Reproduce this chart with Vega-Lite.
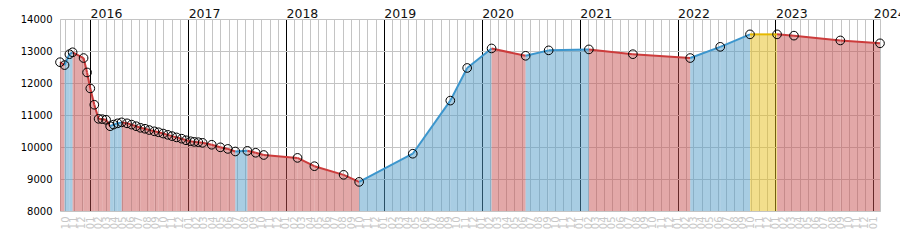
{
  "$schema": "https://vega.github.io/schema/vega-lite/v6.json",
  "width": 820,
  "height": 192,
  "autosize": "none",
  "padding": {"left": 60, "top": 19, "right": 20, "bottom": 39},
  "background": "white",
  "config": {"view": {"stroke": "#c4c4c4", "strokeWidth": 1}, "font": "DejaVu Sans"},
  "data": {
    "format": {"parse": {"d": "date"}},
    "values": [
      {"d": "2015-09-11", "v": 12650, "t": "down"},
      {"d": "2015-09-28", "v": 12560, "t": "up"},
      {"d": "2015-10-16", "v": 12900, "t": "up"},
      {"d": "2015-10-28", "v": 12960, "t": "down"},
      {"d": "2015-12-08", "v": 12780, "t": "down"},
      {"d": "2015-12-21", "v": 12330, "t": "down"},
      {"d": "2016-01-02", "v": 11830, "t": "down"},
      {"d": "2016-01-17", "v": 11320, "t": "down"},
      {"d": "2016-02-02", "v": 10880, "t": "down"},
      {"d": "2016-02-16", "v": 10870, "t": "down"},
      {"d": "2016-03-01", "v": 10850, "t": "down"},
      {"d": "2016-03-16", "v": 10650, "t": "up"},
      {"d": "2016-03-29", "v": 10700, "t": "up"},
      {"d": "2016-04-13", "v": 10740, "t": "up"},
      {"d": "2016-04-28", "v": 10770, "t": "down"},
      {"d": "2016-05-18", "v": 10740, "t": "down"},
      {"d": "2016-06-04", "v": 10700, "t": "down"},
      {"d": "2016-06-21", "v": 10650, "t": "down"},
      {"d": "2016-07-07", "v": 10600, "t": "down"},
      {"d": "2016-07-24", "v": 10570, "t": "down"},
      {"d": "2016-08-09", "v": 10530, "t": "down"},
      {"d": "2016-08-28", "v": 10490, "t": "down"},
      {"d": "2016-09-13", "v": 10460, "t": "down"},
      {"d": "2016-09-30", "v": 10420, "t": "down"},
      {"d": "2016-10-17", "v": 10380, "t": "down"},
      {"d": "2016-11-02", "v": 10340, "t": "down"},
      {"d": "2016-11-19", "v": 10300, "t": "down"},
      {"d": "2016-12-08", "v": 10260, "t": "down"},
      {"d": "2016-12-24", "v": 10210, "t": "down"},
      {"d": "2017-01-10", "v": 10180, "t": "down"},
      {"d": "2017-01-24", "v": 10160, "t": "down"},
      {"d": "2017-02-08", "v": 10150, "t": "down"},
      {"d": "2017-02-24", "v": 10130, "t": "down"},
      {"d": "2017-03-30", "v": 10070, "t": "down"},
      {"d": "2017-05-01", "v": 9990, "t": "down"},
      {"d": "2017-05-29", "v": 9940, "t": "down"},
      {"d": "2017-06-26", "v": 9860, "t": "up"},
      {"d": "2017-08-10", "v": 9880, "t": "down"},
      {"d": "2017-09-10", "v": 9820, "t": "down"},
      {"d": "2017-10-10", "v": 9750, "t": "down"},
      {"d": "2018-02-13", "v": 9660, "t": "down"},
      {"d": "2018-04-17", "v": 9400, "t": "down"},
      {"d": "2018-08-04", "v": 9130, "t": "down"},
      {"d": "2018-10-01", "v": 8910, "t": "up"},
      {"d": "2019-04-19", "v": 9790, "t": "up"},
      {"d": "2019-09-06", "v": 11450, "t": "up"},
      {"d": "2019-11-08", "v": 12470, "t": "up"},
      {"d": "2020-02-07", "v": 13080, "t": "down"},
      {"d": "2020-06-13", "v": 12850, "t": "up"},
      {"d": "2020-09-07", "v": 13020, "t": "up"},
      {"d": "2021-02-04", "v": 13050, "t": "down"},
      {"d": "2021-07-18", "v": 12900, "t": "down"},
      {"d": "2022-02-17", "v": 12780, "t": "up"},
      {"d": "2022-06-09", "v": 13130, "t": "up"},
      {"d": "2022-09-28", "v": 13520, "t": "flat"},
      {"d": "2023-01-07", "v": 13520, "t": "down"},
      {"d": "2023-03-11", "v": 13480, "t": "down"},
      {"d": "2023-08-31", "v": 13330, "t": "down"},
      {"d": "2024-01-26", "v": 13240, "t": "down"}
    ]
  },
  "layer": [
    {
      "transform": [
        {"window": [{"op": "lead", "field": "d", "as": "d2"}, {"op": "lead", "field": "v", "as": "v2"}], "sort": [{"field": "d"}]},
        {"filter": "datum.d2 != null"},
        {"fold": ["d", "d2"], "as": ["kd", "xd"]},
        {"fold": ["v", "v2"], "as": ["kv", "yv"]},
        {"filter": "(datum.kd === 'd') === (datum.kv === 'v')"}
      ],
      "mark": {"type": "area", "fillOpacity": 0.5, "interpolate": "linear"},
      "encoding": {
        "x": {
          "field": "xd", "type": "temporal",
          "scale": {"nice": false, "padding": 0},
          "axis": {
            "orient": "bottom", "format": "%m", "tickCount": {"interval": "month", "step": 1},
            "labelAngle": -90, "labelAlign": "right", "labelBaseline": "middle", "labelDy": 3,
            "labelColor": "#c8c8c8", "labelFontSize": 10, "labelOverlap": false, "labelFlush": false,
            "labelPadding": 5, "ticks": false, "tickSize": 0, "domain": false,
            "grid": true, "gridColor": "#c4c4c4", "gridWidth": 1, "title": null
          }
        },
        "y": {
          "field": "yv", "type": "quantitative",
          "scale": {"domain": [8000, 14000], "zero": false, "nice": false},
          "axis": {
            "tickCount": 6, "format": "d", "labelFontSize": 10, "labelColor": "#000", "labelPadding": 8,
            "ticks": false, "tickSize": 0, "domain": false, "labelFlush": false,
            "grid": true, "gridColor": "#c4c4c4", "gridWidth": 1, "title": null
          }
        },
        "y2": {"datum": 8000},
        "fill": {
          "field": "t", "type": "nominal",
          "scale": {"domain": ["down", "up", "flat"], "range": ["#c75151", "#519bc7", "#e5bd19"]},
          "legend": null
        },
        "detail": {"field": "d", "type": "temporal"}
      }
    },
    {
      "transform": [
        {"window": [{"op": "lead", "field": "d", "as": "d2"}, {"op": "lead", "field": "v", "as": "v2"}], "sort": [{"field": "d"}]},
        {"filter": "datum.d2 != null"},
        {"fold": ["d", "d2"], "as": ["kd", "xd"]},
        {"fold": ["v", "v2"], "as": ["kv", "yv"]},
        {"filter": "(datum.kd === 'd') === (datum.kv === 'v')"}
      ],
      "mark": {"type": "line", "strokeWidth": 2},
      "encoding": {
        "x": {
          "field": "xd", "type": "temporal",
          "axis": {
            "orient": "top", "format": "%Y", "tickCount": {"interval": "year", "step": 1},
            "labelAlign": "left", "labelBaseline": "alphabetic", "labelDx": 5,
            "labelFontSize": 12.5, "labelColor": "#111", "labelPadding": 2,
            "labelOverlap": false, "labelFlush": false,
            "ticks": false, "tickSize": 0, "domain": false,
            "grid": true, "gridColor": "#000", "gridWidth": 1, "title": null
          }
        },
        "y": {"field": "yv", "type": "quantitative"},
        "stroke": {
          "field": "t", "type": "nominal",
          "scale": {"domain": ["down", "up", "flat"], "range": ["#cc3c3c", "#3c96cd", "#e6b800"]},
          "legend": null
        },
        "detail": {"field": "d", "type": "temporal"}
      }
    },
    {
      "mark": {"type": "point", "shape": "circle", "filled": false, "stroke": "#000", "strokeWidth": 1, "size": 75, "opacity": 1},
      "encoding": {
        "x": {"field": "d", "type": "temporal", "axis": null},
        "y": {"field": "v", "type": "quantitative"}
      }
    }
  ],
  "resolve": {"axis": {"x": "independent"}}
}
